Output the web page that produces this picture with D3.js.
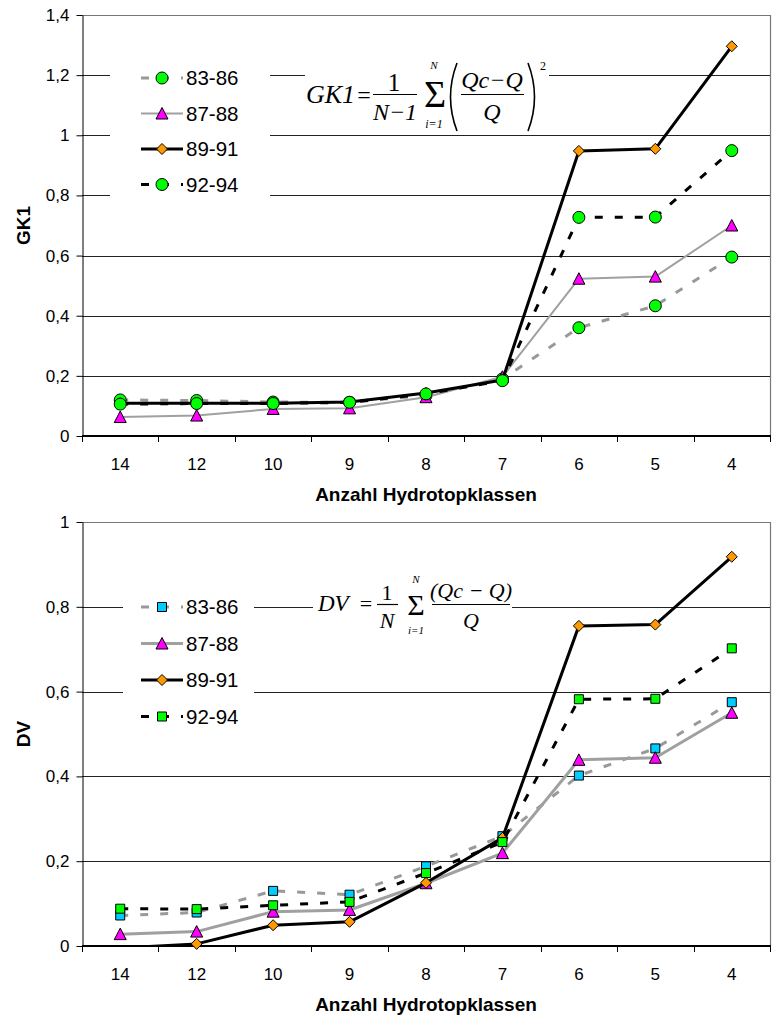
<!DOCTYPE html>
<html lang="de">
<head>
<meta charset="utf-8">
<title>GK1 und DV nach Anzahl Hydrotopklassen</title>
<script src="https://d3js.org/d3.v7.min.js"></script>
<style>
  body { margin: 0; background: #fff; }
  svg text { font-family: "Liberation Sans", Arial, sans-serif; fill: #000; }
  svg .f text { font-family: "Liberation Serif", "Times New Roman", serif; }
</style>
</head>
<body>
<script>
// ---- data ----
var categories = ["14", "12", "10", "9", "8", "7", "6", "5", "4"];
var periods = ["83-86", "87-88", "89-91", "92-94"];

var gk1_8386 = [0.120, 0.118, 0.113, 0.112, 0.135, 0.190, 0.360, 0.433, 0.595];
var gk1_8788 = [0.063, 0.068, 0.090, 0.092, 0.129, 0.197, 0.523, 0.530, 0.700];
var gk1_8991 = [0.109, 0.109, 0.109, 0.113, 0.143, 0.186, 0.948, 0.955, 1.296];
var gk1_9294 = [0.106, 0.108, 0.108, 0.112, 0.140, 0.184, 0.727, 0.728, 0.949];

var dv_8386 = [0.072, 0.079, 0.130, 0.121, 0.188, 0.259, 0.402, 0.466, 0.575];
var dv_8788 = [0.028, 0.034, 0.081, 0.085, 0.148, 0.219, 0.439, 0.444, 0.550];
var dv_8991 = [-0.005, 0.005, 0.049, 0.057, 0.149, 0.255, 0.755, 0.758, 0.918];
var dv_9294 = [0.088, 0.087, 0.096, 0.104, 0.172, 0.245, 0.582, 0.583, 0.702];

var gk1Ticks = [0, 0.2, 0.4, 0.6, 0.8, 1, 1.2, 1.4];
var dvTicks = [0, 0.2, 0.4, 0.6, 0.8, 1];

var width = 772, height = 1019;
var left = 82, right = 770;

var fmt = d3.formatLocale({decimal: ",", thousands: ".", grouping: [3], currency: ["", " €"]}).format("~g");

var svg = d3.select("body").append("svg")
    .attr("width", width)
    .attr("height", height);

// marker shapes
function markerPath(shape) {
  if (shape == "circle") return "M6,0A6,6 0 1,1 -6,0A6,6 0 1,1 6,0Z";
  if (shape == "triangle") return "M0,-6L6,5.5L-6,5.5Z";
  if (shape == "diamond") return "M0,-5.5L5.5,0L0,5.5L-5.5,0Z";
  return "M-4.5,-4.5H4.5V4.5H-4.5Z";
}

function panel(opt) {
  var g = svg.append("g");

  var x = d3.scaleBand().domain(categories).range([left, right]);
  var y = d3.scaleLinear().domain([0, opt.max]).range([opt.bottom, opt.top]);
  var cx = function(i) { return x(categories[i]) + x.bandwidth() / 2; };

  // gridlines
  g.selectAll(".grid")
    .data(opt.ticks.filter(function(t) { return t > 0 && t < opt.max; }))
    .enter().append("line")
      .attr("x1", left).attr("x2", right)
      .attr("y1", function(d) { return Math.round(y(d)) + 0.5; })
      .attr("y2", function(d) { return Math.round(y(d)) + 0.5; })
      .attr("stroke", "#222").attr("stroke-width", 1);

  // plot border (top + right)
  g.append("path")
    .attr("d", "M" + left + "," + (Math.round(y(opt.max)) + 0.5) + "H" + (right + 0.5) + "V" + opt.bottom)
    .attr("fill", "none").attr("stroke", "#777").attr("stroke-width", 1.2);

  // white boxes behind legend and formula
  g.append("rect").attr("x", opt.legendBox[0]).attr("y", opt.legendBox[1])
    .attr("width", opt.legendBox[2]).attr("height", opt.legendBox[3]).attr("fill", "#fff");
  g.append("rect").attr("x", opt.formulaBox[0]).attr("y", opt.formulaBox[1])
    .attr("width", opt.formulaBox[2]).attr("height", opt.formulaBox[3]).attr("fill", "#fff");

  // y axis
  var ya = g.append("g")
    .attr("transform", "translate(" + (left + 0.5) + ",0)")
    .call(d3.axisLeft(y).tickValues(opt.ticks).tickSize(6).tickSizeOuter(0).tickPadding(7).tickFormat(fmt));
  ya.selectAll("text").attr("font-size", 17).attr("font-family", "Liberation Sans, Arial, sans-serif");
  ya.select(".domain").attr("stroke", "#000");
  ya.selectAll(".tick line").attr("stroke", "#000");

  // x axis: labels at category centres, ticks at boundaries
  var xa = g.append("g")
    .attr("transform", "translate(0," + opt.bottom + ")")
    .call(d3.axisBottom(x).tickSize(0).tickPadding(22));
  xa.selectAll("text").attr("font-size", 17).attr("font-family", "Liberation Sans, Arial, sans-serif");
  xa.select(".domain").remove();
  g.append("line").attr("x1", left).attr("x2", right + 1)
    .attr("y1", opt.bottom).attr("y2", opt.bottom)
    .attr("stroke", "#000").attr("stroke-width", 2);
  g.selectAll(".xtick")
    .data(d3.range(categories.length + 1))
    .enter().append("line")
      .attr("x1", function(i) { return Math.round(x.range()[0] + i * x.step()) + 0.5; })
      .attr("x2", function(i) { return Math.round(x.range()[0] + i * x.step()) + 0.5; })
      .attr("y1", opt.bottom).attr("y2", opt.bottom + 6)
      .attr("stroke", "#000");

  // axis titles
  g.append("text")
    .attr("x", (left + right) / 2).attr("y", opt.bottom + 58)
    .attr("text-anchor", "middle").attr("dy", "0.35em")
    .attr("font-size", 19).attr("font-weight", "bold")
    .text("Anzahl Hydrotopklassen");
  g.append("text")
    .attr("transform", "translate(23," + (opt.top + opt.bottom) / 2 + ") rotate(-90)")
    .attr("text-anchor", "middle").attr("dy", "0.35em")
    .attr("font-size", 19).attr("font-weight", "bold")
    .text(opt.title);

  // series
  var clipId = "clip" + opt.title;
  svg.append("clipPath").attr("id", clipId).append("rect")
    .attr("x", left).attr("y", opt.top).attr("width", right - left).attr("height", opt.bottom - opt.top + 1);

  var line = d3.line()
    .x(function(d, i) { return cx(i); })
    .y(function(d) { return y(d); });

  opt.series.forEach(function(s) {
    g.append("path")
      .datum(s.values)
      .attr("d", line)
      .attr("clip-path", "url(#" + clipId + ")")
      .attr("fill", "none")
      .attr("stroke", s.stroke)
      .attr("stroke-width", s.width)
      .attr("stroke-dasharray", s.dash)
      .attr("stroke-linejoin", "round");
    g.selectAll(null)
      .data(s.values.map(function(v, i) { return [i, v]; }).filter(function(d) { return d[1] >= 0; }))
      .enter().append("path")
        .attr("transform", function(d) { return "translate(" + cx(d[0]) + "," + y(d[1]) + ")"; })
        .attr("d", markerPath(s.shape))
        .attr("fill", s.fill)
        .attr("stroke", "#000")
        .attr("stroke-width", 1);
  });

  // legend
  var lg = g.selectAll(".legend")
    .data(opt.series)
    .enter().append("g")
      .attr("transform", function(d, i) { return "translate(0," + (opt.legendY + i * opt.legendStep) + ")"; });
  lg.append("line")
    .attr("x1", 141).attr("x2", 183).attr("y1", 0).attr("y2", 0)
    .attr("stroke", function(d) { return d.stroke; })
    .attr("stroke-width", function(d) { return d.width; })
    .attr("stroke-dasharray", function(d) { return d.dash; });
  lg.append("path")
    .attr("transform", "translate(162,0)")
    .attr("d", function(d) { return markerPath(d.shape); })
    .attr("fill", function(d) { return d.fill; })
    .attr("stroke", "#000");
  lg.append("text")
    .attr("x", 186).attr("y", 0).attr("dy", "0.36em")
    .attr("font-size", 20.5)
    .text(function(d) { return d.name; });

  return g;
}

var dashed = "8,12";

// ---- GK1 panel ----
panel({
  title: "GK1", max: 1.4, ticks: gk1Ticks, top: 15, bottom: 436,
  legendBox: [110, 58, 160, 146], legendY: 78, legendStep: 35.5,
  formulaBox: [305, 60, 244, 72],
  series: [
    {name: periods[0], values: gk1_8386, stroke: "#999", width: 3, dash: dashed, shape: "circle", fill: "#00ff00"},
    {name: periods[1], values: gk1_8788, stroke: "#a0a0a0", width: 2, dash: null, shape: "triangle", fill: "#ff00ff"},
    {name: periods[2], values: gk1_8991, stroke: "#000", width: 3, dash: null, shape: "diamond", fill: "#ff9900"},
    {name: periods[3], values: gk1_9294, stroke: "#000", width: 3, dash: dashed, shape: "circle", fill: "#00ff00"}
  ]
});

// ---- DV panel ----
panel({
  title: "DV", max: 1, ticks: dvTicks, top: 522, bottom: 946,
  legendBox: [123, 588, 131, 146], legendY: 607, legendStep: 36.5,
  formulaBox: [313, 570, 199, 68],
  series: [
    {name: periods[0], values: dv_8386, stroke: "#999", width: 3, dash: dashed, shape: "square", fill: "#00ccff"},
    {name: periods[1], values: dv_8788, stroke: "#a0a0a0", width: 3, dash: null, shape: "triangle", fill: "#ff00ff"},
    {name: periods[2], values: dv_8991, stroke: "#000", width: 3, dash: null, shape: "diamond", fill: "#ff9900"},
    {name: periods[3], values: dv_9294, stroke: "#000", width: 3, dash: dashed, shape: "square", fill: "#00ff00"}
  ]
});

// ---- formulas ----
function txt(g, x, y, s, size, italic, anchor) {
  return g.append("text").attr("x", x).attr("y", y)
    .attr("font-size", size)
    .attr("font-style", italic ? "italic" : "normal")
    .attr("text-anchor", anchor || "start")
    .text(s);
}
function bar(g, x1, x2, y) {
  g.append("line").attr("x1", x1).attr("x2", x2).attr("y1", y).attr("y2", y)
    .attr("stroke", "#000").attr("stroke-width", 1.2);
}

var f1 = svg.append("g").attr("class", "f");
txt(f1, 306, 103, "GK1", 26, true);
txt(f1, 364, 103, "=", 24, false, "middle");
txt(f1, 394, 91, "1", 25, false, "middle");
bar(f1, 373, 417, 94.5);
txt(f1, 395, 120, "N\u22121", 24, true, "middle");
txt(f1, 435, 107, "\u03a3", 38, false, "middle");
txt(f1, 434, 69, "N", 11, true, "middle");
txt(f1, 434, 128, "i=1", 12, true, "middle");
f1.append("path").attr("d", "M457,63Q444,97 457,131").attr("fill", "none").attr("stroke", "#000").attr("stroke-width", 1.6);
txt(f1, 492, 88, "Qc\u2212Q", 24, true, "middle");
bar(f1, 461, 524, 94.5);
txt(f1, 492, 120, "Q", 24, true, "middle");
f1.append("path").attr("d", "M528,63Q541,97 528,131").attr("fill", "none").attr("stroke", "#000").attr("stroke-width", 1.6);
txt(f1, 543, 70, "2", 12, false, "middle");

var f2 = svg.append("g").attr("class", "f");
txt(f2, 318, 611, "DV", 23, true);
txt(f2, 366, 611, "=", 22, false, "middle");
txt(f2, 387, 600, "1", 22, false, "middle");
bar(f2, 377, 398, 604.5);
txt(f2, 387, 628, "N", 22, true, "middle");
txt(f2, 416, 615, "\u03a3", 30, false, "middle");
txt(f2, 416, 583, "N", 11, true, "middle");
txt(f2, 416, 634, "i=1", 11, true, "middle");
txt(f2, 471, 598, "(Qc \u2212 Q)", 22, true, "middle");
bar(f2, 432, 510, 604.5);
txt(f2, 471, 628, "Q", 22, true, "middle");
</script>
</body>
</html>
